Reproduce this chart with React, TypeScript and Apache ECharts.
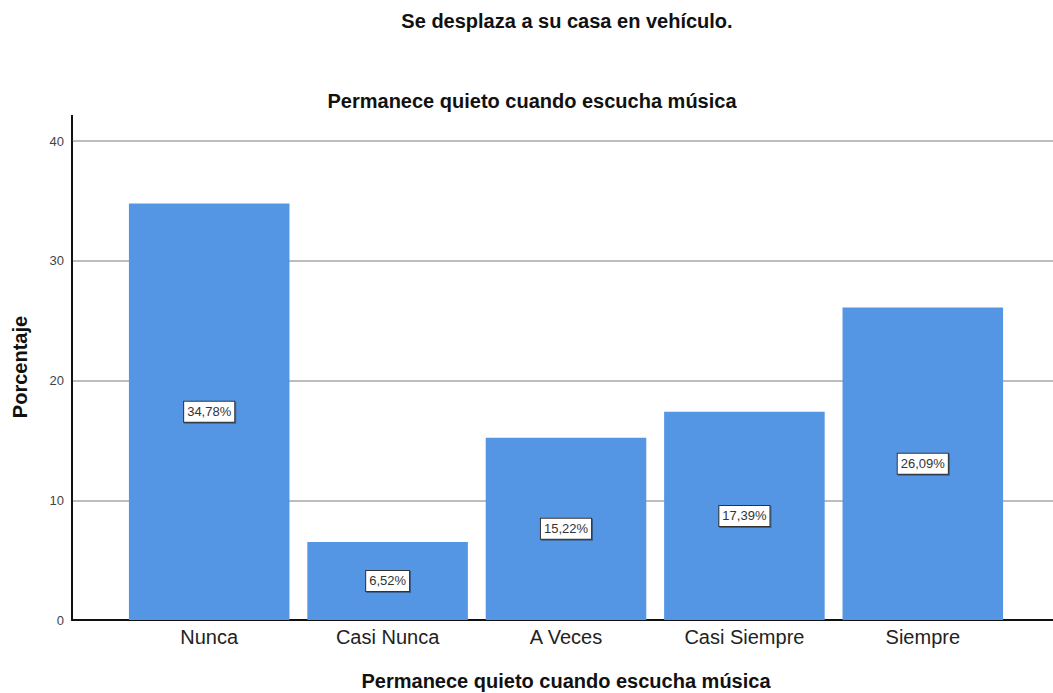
import React, { useEffect, useRef } from "react";
import * as echarts from "echarts";

const categories = ["Nunca", "Casi Nunca", "A Veces", "Casi Siempre", "Siempre"];
const values = [34.78, 6.52, 15.22, 17.39, 26.09];
const yTicks = [0, 10, 20, 30, 40];
const mainTitle = "Se desplaza a su casa en vehículo.";
const chartTitle = "Permanece quieto cuando escucha música";
const xName = "Permanece quieto cuando escucha música";
const yName = "Porcentaje";

const FONT = "'Liberation Sans', Arial, sans-serif";

export default function App() {
  const ref = useRef<HTMLDivElement>(null);
  useEffect(() => {
    if (!ref.current) return;
    const chart = echarts.init(ref.current, null, { renderer: "svg" });
    const yMin = yTicks[0];
    const yMax = yTicks[yTicks.length - 1];
    const yInterval = yTicks[1] - yTicks[0];
    const titleStyle = {
      fontFamily: FONT,
      fontWeight: "bold",
      fontSize: 20,
      fill: "#111",
      align: "center",
      verticalAlign: "middle",
    };
    chart.setOption({
      animation: false,
      backgroundColor: "#ffffff",
      textStyle: { fontFamily: FONT },
      grid: [
        { left: 72, right: 0, top: 141, bottom: 73 },
        { left: 120, right: 41, top: 141, bottom: 73 },
      ],
      xAxis: [
        {
          gridIndex: 0,
          type: "value",
          min: 0,
          max: 1,
          axisLine: { show: true, lineStyle: { color: "#111", width: 2 } },
          axisTick: { show: false },
          axisLabel: { show: false },
          splitLine: { show: false },
        },
        {
          gridIndex: 1,
          type: "category",
          data: categories,
          axisLine: { show: false },
          axisTick: { show: false },
          axisLabel: { color: "#222", fontSize: 20, margin: 7, fontFamily: FONT },
        },
      ],
      yAxis: [
        {
          gridIndex: 0,
          type: "value",
          min: yMin,
          max: yMax,
          interval: yInterval,
          axisLine: { show: true, lineStyle: { color: "#111", width: 2 } },
          axisTick: { show: false },
          axisLabel: { color: "#444", fontSize: 13, margin: 8, fontFamily: FONT },
          splitLine: { show: true, lineStyle: { color: "#bdbdbd", width: 2 } },
        },
        {
          gridIndex: 1,
          type: "value",
          min: yMin,
          max: yMax,
          interval: yInterval,
          show: false,
          splitLine: { show: false },
        },
      ],
      series: [
        {
          type: "bar",
          xAxisIndex: 1,
          yAxisIndex: 1,
          data: values,
          barCategoryGap: "10%",
          itemStyle: { color: "#5596e4" },
          label: {
            show: true,
            position: "inside",
            formatter: (p: any) => p.value.toFixed(2).replace(".", ",") + "%",
            fontFamily: FONT,
            fontSize: 13,
            color: "#333",
            backgroundColor: "#ffffff",
            borderColor: "#333",
            borderWidth: 1,
            padding: [4, 3, 3, 3],
            shadowColor: "rgba(0,0,0,0.35)",
            shadowOffsetX: 1,
            shadowOffsetY: 1,
            shadowBlur: 1,
          },
        },
      ],
      graphic: [
        {
          type: "line",
          shape: { x1: 72, y1: 115, x2: 72, y2: 142 },
          style: { stroke: "#111", lineWidth: 2 },
        },
        { type: "text", x: 567, y: 21, style: { ...titleStyle, text: mainTitle } },
        { type: "text", x: 532, y: 101, style: { ...titleStyle, text: chartTitle } },
        { type: "text", x: 566, y: 681, style: { ...titleStyle, text: xName } },
        {
          type: "text",
          x: 20,
          y: 367,
          rotation: Math.PI / 2,
          style: { ...titleStyle, text: yName },
        },
      ],
    });
    return () => chart.dispose();
  }, []);
  return <div ref={ref} style={{ width: 1053, height: 693, position: "absolute", left: 0, top: 0 }} />;
}
